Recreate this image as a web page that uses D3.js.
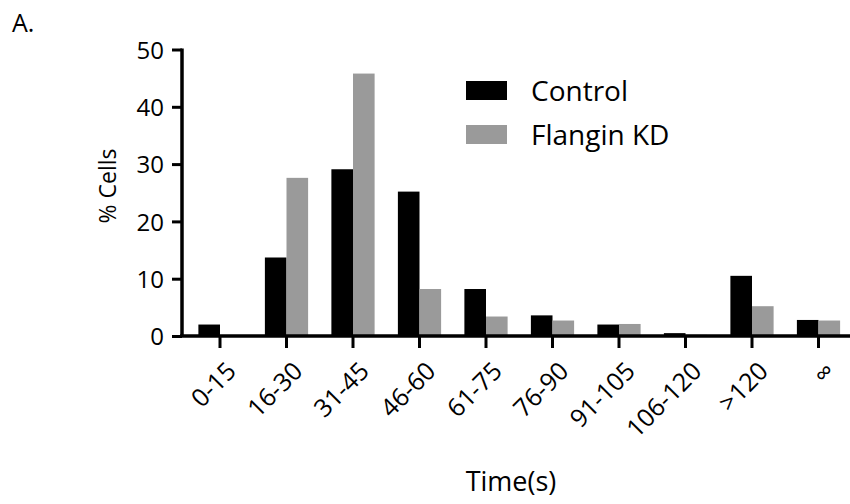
<!DOCTYPE html>
<html>
<head>
<meta charset="utf-8">
<script src="https://cdn.jsdelivr.net/npm/d3@7"></script>
<style>
  body { margin: 0; background: #fff; }
  svg { display: block; font-family: "Open Sans", sans-serif; }
</style>
</head>
<body>
<svg id="chart" width="850" height="504"></svg>
<script>
const categories = ["0-15", "16-30", "31-45", "46-60", "61-75", "76-90", "91-105", "106-120", ">120", "\u221E"];
const seriesNames = ["Control", "Flangin KD"];
const controlValues = [2.0, 13.7, 29.1, 25.2, 8.2, 3.6, 2.0, 0.5, 10.5, 2.8];
const flanginValues = [0.0, 27.6, 45.8, 8.2, 3.4, 2.7, 2.1, 0.2, 5.2, 2.7];
const yTicks = [0, 10, 20, 30, 40, 50];
const colors = ["#000000", "#9a9a9a"];

const svg = d3.select("#chart");
const W = 850, H = 504;
const m = { left: 182, right: 850, top: 49.5, bottom: 336 };

const x = d3.scaleBand().domain(categories).range([186.75, 851.75]).paddingInner(0.35).paddingOuter(0.175);
const xs = d3.scaleBand().domain(seriesNames).range([0, x.bandwidth()]).padding(0);
const y = d3.scaleLinear().domain([0, 50]).range([m.bottom, m.top]);

const seriesData = [controlValues, flanginValues];

// bars
seriesNames.forEach((s, si) => {
  svg.append("g").selectAll("rect")
    .data(categories.map((c, i) => ({ c, v: seriesData[si][i] })))
    .join("rect")
    .attr("x", d => x(d.c) + xs(s))
    .attr("y", d => y(d.v))
    .attr("width", xs.bandwidth())
    .attr("height", d => y(0) - y(d.v))
    .attr("fill", colors[si]);
});

// y axis
const yAxis = svg.append("g")
  .attr("transform", `translate(${m.left},0)`)
  .call(d3.axisLeft(y).tickValues(yTicks).tickSize(10).tickPadding(8));
yAxis.select(".domain").attr("stroke-width", 3.5).attr("d", `M0,${m.top - 1}V${m.bottom}`);
yAxis.selectAll(".tick line").attr("stroke-width", 3);
yAxis.selectAll(".tick text").attr("font-size", 24).attr("font-family", "Open Sans").attr("fill", "#000").attr("dy", "0.36em");

// x axis
const xAxis = svg.append("g")
  .attr("transform", `translate(0,${m.bottom})`)
  .call(d3.axisBottom(x).tickSize(12).tickFormat(""));
xAxis.select(".domain").attr("stroke-width", 3.5).attr("d", `M${m.left - 2},0H${W}`);
xAxis.selectAll(".tick line").attr("stroke-width", 3);

svg.append("g").selectAll("text")
  .data(categories)
  .join("text")
  .attr("transform", d => `translate(${x(d) + x.bandwidth() / 2 + 5},${m.bottom + 24}) rotate(-45)`)
  .attr("text-anchor", "end")
  .attr("dy", "0.72em")
  .attr("font-size", 25)
  .attr("fill", "#000")
  .text(d => d);

// axis titles
svg.append("text")
  .attr("x", 511).attr("y", 491)
  .attr("text-anchor", "middle")
  .attr("font-size", 27)
  .text("Time(s)");

svg.append("text")
  .attr("transform", `translate(116,186) rotate(-90)`)
  .attr("text-anchor", "middle")
  .attr("font-size", 23)
  .text("% Cells");

svg.append("text")
  .attr("x", 12).attr("y", 32)
  .attr("font-size", 25)
  .text("A.");

// legend
const legend = svg.append("g").selectAll("g")
  .data(seriesNames)
  .join("g")
  .attr("transform", (d, i) => `translate(466,${81 + i * 44})`);
legend.append("rect").attr("width", 41).attr("height", 19).attr("fill", (d, i) => colors[i]);
legend.append("text").attr("x", 65).attr("y", 20).attr("font-size", 28).text(d => d);
</script>
</body>
</html>
